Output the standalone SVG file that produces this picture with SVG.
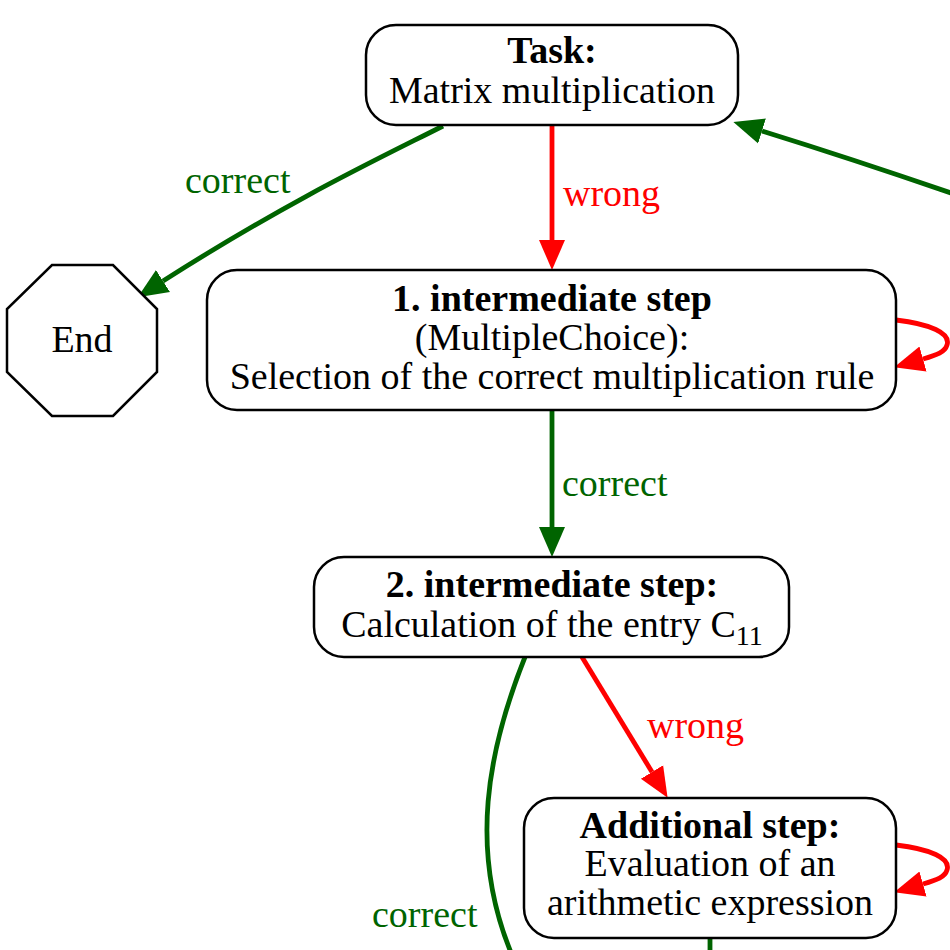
<svg xmlns="http://www.w3.org/2000/svg" width="950" height="950" viewBox="0 0 950 950">
<style>
.node{fill:#fff;stroke:#000;stroke-width:2.5}
text{font-family:"Liberation Serif","Times New Roman",serif;font-size:38px;text-anchor:middle;fill:#000}
.b{font-weight:bold}
.g{stroke:#006400;stroke-width:4.8;fill:none}
.r{stroke:#ff0000;stroke-width:4.8;fill:none}
.lg{fill:#006400;text-anchor:start}
.lr{fill:#ff0000;text-anchor:start}
</style>
<defs>
<marker id="ag" markerUnits="userSpaceOnUse" markerWidth="32" markerHeight="28" viewBox="0 -14 32 28" refX="0" refY="0" orient="auto"><path d="M0,-13 L30,0 L0,13 z" fill="#006400"/></marker>
<marker id="ar" markerUnits="userSpaceOnUse" markerWidth="32" markerHeight="28" viewBox="0 -14 32 28" refX="0" refY="0" orient="auto"><path d="M0,-13 L30,0 L0,13 z" fill="#ff0000"/></marker>
</defs>
<rect width="950" height="950" fill="#fff"/>
<g id="edges">
<path class="g" d="M443,126 C380,158 290,200 163,281" marker-end="url(#ag)"/>
<text class="lg" x="185" y="193">correct</text>
<path class="r" d="M552,126 L552,240" marker-end="url(#ar)"/>
<text class="lr" x="563" y="206">wrong</text>
<path class="g" d="M954,194 C890,172 820,149 762,131" marker-end="url(#ag)"/>
<path class="r" d="M896,320 C930,324 951,333 947,345 C945,352 937,355 923,359" marker-end="url(#ar)"/>
<path class="g" d="M552,410 L552,527" marker-end="url(#ag)"/>
<text class="lg" x="562" y="496">correct</text>
<path class="r" d="M582,657 L652,772" marker-end="url(#ar)"/>
<text class="lr" x="647" y="738">wrong</text>
<path class="g" d="M525,657 C488,750 468,850 512,955"/>
<text class="lg" x="372" y="927">correct</text>
<path class="r" d="M896,845 C930,849 951,858 947,870 C945,877 937,880 923,884" marker-end="url(#ar)"/>
<path class="g" d="M710,938 L710,955"/>
</g>
<g id="task">
<rect class="node" x="366" y="25" width="372" height="100" rx="30"/>
<text class="b" x="552" y="63">Task:</text>
<text x="552" y="103">Matrix multiplication</text>
</g>
<g id="end">
<polygon class="node" points="52,265 113,265 157,309 157,372 113,416 52,416 7,372 7,309"/>
<text x="82" y="352">End</text>
</g>
<g id="step1">
<rect class="node" x="207" y="270" width="689" height="140" rx="30"/>
<text class="b" x="552" y="311">1. intermediate step</text>
<text x="552" y="350">(MultipleChoice):</text>
<text x="552" y="389">Selection of the correct multiplication rule</text>
</g>
<g id="step2">
<rect class="node" x="314" y="557" width="475" height="100" rx="30"/>
<text class="b" x="552" y="597">2. intermediate step:</text>
<text x="552" y="637">Calculation of the entry C<tspan font-size="28" dy="8">11</tspan></text>
</g>
<g id="additional">
<rect class="node" x="524" y="798" width="372" height="140" rx="30"/>
<text class="b" x="710" y="838">Additional step:</text>
<text x="710" y="876">Evaluation of an</text>
<text x="710" y="915">arithmetic expression</text>
</g>
</svg>
